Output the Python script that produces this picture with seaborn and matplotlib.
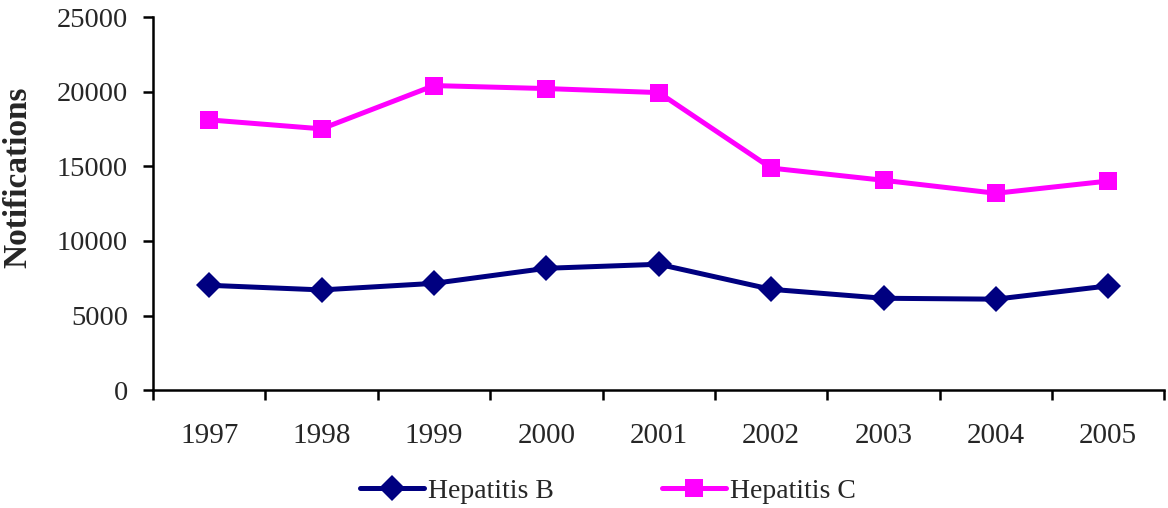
import pandas as pd
import numpy as np
import matplotlib.pyplot as plt
import seaborn as sns

years = ['1997', '1998', '1999', '2000', '2001', '2002', '2003', '2004', '2005']
hep_b = [7030, 6720, 7160, 8170, 8440, 6760, 6160, 6100, 6990]
hep_c = [18120, 17520, 20420, 20220, 19950, 14890, 14070, 13200, 14020]

df = pd.DataFrame({
    'Year': years * 2,
    'Notifications': hep_b + hep_c,
    'Disease': ['Hepatitis B'] * len(years) + ['Hepatitis C'] * len(years),
})
df['pos'] = list(range(len(years))) * 2

sns.set_theme(style="white")
plt.rcParams['font.family'] = ['Liberation Serif', 'DejaVu Serif']

fig = plt.figure(figsize=(11.68, 5.08), dpi=100)
ax = fig.add_axes([0.131, 0.232, 0.866, 0.734])

sns.lineplot(data=df, x='pos', y='Notifications', hue='Disease', style='Disease',
             palette={'Hepatitis B': '#000080', 'Hepatitis C': '#FF00FF'},
             markers={'Hepatitis B': 'D', 'Hepatitis C': 's'},
             dashes=False, linewidth=3.6, markersize=13, markeredgewidth=0, ax=ax)

ax.set_xlim(-0.5, len(years) - 0.5)
ax.set_ylim(0, 25000)
ax.set_yticks(range(0, 25001, 5000))
ax.set_yticklabels([str(v) for v in range(0, 25001, 5000)], fontsize=20.5)
ax.set_xticks(range(len(years)))
ax.set_xticklabels(years, fontsize=21)
ax.set_xticks(np.arange(-0.5, len(years), 1), minor=True)
ax.tick_params(axis='x', which='major', bottom=True, length=0, pad=24)
ax.tick_params(axis='x', which='minor', bottom=True, length=7, width=1.8, direction='out', color='black')
ax.tick_params(axis='y', left=True, length=7, width=1.8, direction='out', color='black', pad=11)
ax.set_xlabel('')
ax.set_ylabel('Notifications', fontsize=24, fontweight='bold')
ax.yaxis.set_label_coords(-0.118, 0.57)

for s in ['top', 'right']:
    ax.spines[s].set_visible(False)
for s in ['left', 'bottom']:
    ax.spines[s].set_color('black')
    ax.spines[s].set_linewidth(1.8)

ax.legend(loc='center', bbox_to_anchor=(0.45, -0.27), ncol=2, frameon=False,
          fontsize=20, handlelength=2.3, columnspacing=3.9, handletextpad=0.15)

fig.savefig('out.png', dpi=100)
